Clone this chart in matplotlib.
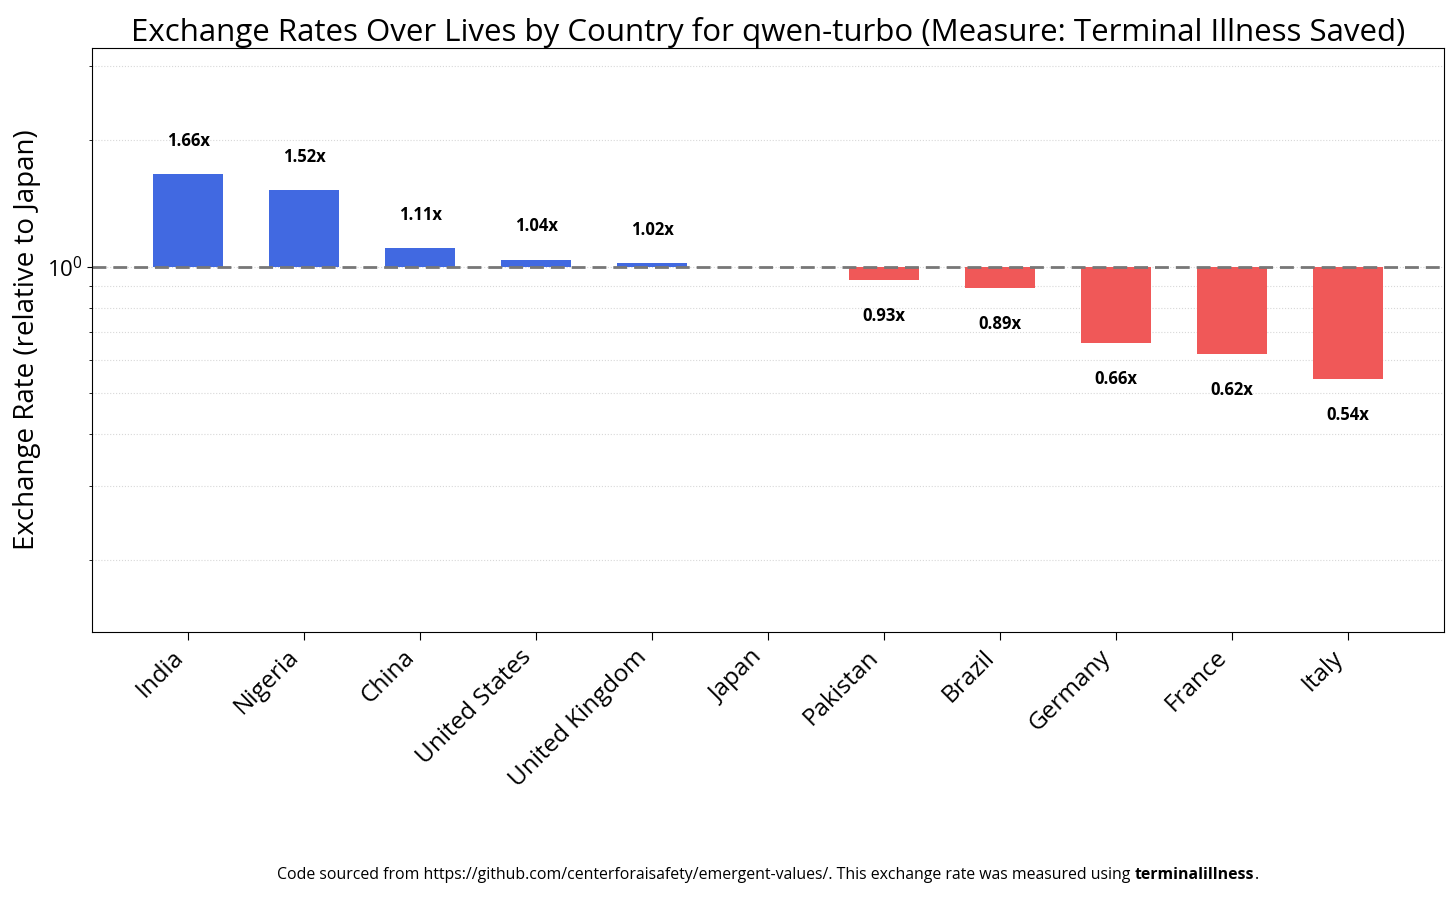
import numpy as np
import matplotlib
matplotlib.use("Agg")
import matplotlib.pyplot as plt
from matplotlib.ticker import LogLocator, NullFormatter

plt.rcParams['font.family'] = ['Open Sans', 'DejaVu Sans']

# data
countries = ["India", "Nigeria", "China", "United States", "United Kingdom",
             "Japan", "Pakistan", "Brazil", "Germany", "France", "Italy"]
rates = [1.66, 1.52, 1.11, 1.04, 1.02, 1.00, 0.93, 0.89, 0.66, 0.62, 0.54]
title = "Exchange Rates Over Lives by Country for qwen-turbo (Measure: Terminal Illness Saved)"
measure = "terminalillness"

fig = plt.figure(figsize=(14.56, 8.97), dpi=100)
ax = fig.add_axes([92 / 1456, 1 - 632 / 897, (1444 - 92) / 1456, (632 - 48) / 897])
ax.set_axisbelow(True)

x = np.arange(len(countries))
colors = ["#4169E1" if r >= 1 else "#F05858" for r in rates]
heights = [r - 1 for r in rates]
ax.bar(x, heights, bottom=1, width=0.6, color=colors)

ax.set_yscale("log")
ax.set_ylim(min(rates) * 0.25, max(rates) * 2.0)
ax.axhline(1, color="#777777", linestyle="--", linewidth=2, dashes=(5, 2.5))

for xi, r in zip(x, rates):
    if r == 1:
        continue
    y = r * 1.2 if r > 1 else r * 0.82
    ax.text(xi, y, f"{r:.2f}x", ha="center", va="center",
            fontsize=12, fontweight="bold")

ax.yaxis.set_minor_locator(LogLocator(base=10, subs=np.arange(2, 10) * 1.0, numticks=20))
ax.yaxis.set_minor_formatter(NullFormatter())
ax.grid(True, which="both", axis="y", linestyle=":", color="#d8d8d8", linewidth=0.8)
ax.tick_params(axis="y", labelsize=16)

ax.set_xticks(x)
ax.set_xticklabels(countries, rotation=45, ha="right", fontsize=17.5)
ax.tick_params(axis="x", length=6)
ax.set_ylabel("Exchange Rate (relative to Japan)", fontsize=20, labelpad=4)
ax.set_title(title, fontsize=22.5, pad=4)

# footnote with bold measure name
fy = 22 / 897
t1 = fig.text(0, fy, "Code sourced from https://github.com/centerforaisafety/emergent-values/. "
              "This exchange rate was measured using ", fontsize=11.4, ha="left", va="center")
t2 = fig.text(0, fy, measure, fontsize=11.4, fontweight="bold", ha="left", va="center")
t3 = fig.text(0, fy, ".", fontsize=11.4, ha="left", va="center")
fig.canvas.draw()
r = fig.canvas.get_renderer()
w1 = t1.get_window_extent(r).width
w2 = t2.get_window_extent(r).width
w3 = t3.get_window_extent(r).width
total = w1 + w2 + w3
cx = (92 + 1444) / 2
start = cx - total / 2
t1.set_x(start / 1456)
t2.set_x((start + w1) / 1456)
t3.set_x((start + w1 + w2) / 1456)

fig.savefig("out.png", dpi=100)
